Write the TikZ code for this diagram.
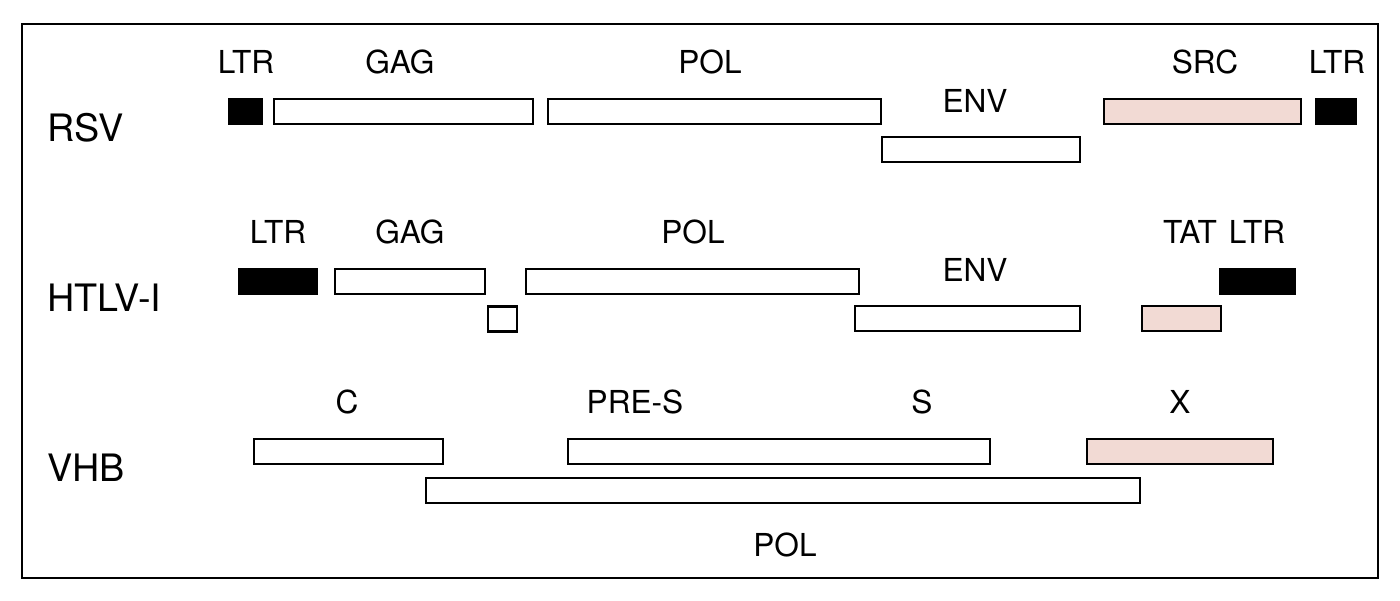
\documentclass[tikz,border=0pt]{standalone}
\usepackage{fontspec}
\setmainfont{TeX Gyre Heros}
\usepackage{tikz}
\usetikzlibrary{positioning}
\definecolor{pinkorf}{RGB}{242,218,212}

\tikzset{
  orf/.style={draw=black,line width=1.5pt,fill=white,inner sep=0pt,minimum height=0.5cm},
  ltrbox/.style={orf,fill=black},
  extra/.style={orf,fill=pinkorf},
  gene/.style={font=\fontsize{18}{21}\selectfont},
  virus/.style={font=\fontsize{21.5}{25}\selectfont,anchor=west}
}

\begin{document}
\begin{tikzpicture}[x=0.02cm,y=-0.02cm]
  \useasboundingbox (0,0) rectangle (1400,600);
  \draw[line width=1.4pt] (22,24) rectangle (1378,578);
  % RSV
  \node[virus] (rsv) at (41,128) {RSV};
  \foreach \nm/\xa/\xb/\yc/\st in {rltra/228/263/111.5/ltrbox, rgag/273/534/111.5/orf,
      rpol/547/882/111.5/orf, renv/881/1081/149.5/orf, rsrc/1103/1302/111.5/extra,
      rltrb/1315/1357/111.5/ltrbox}
    \node[\st,minimum width={(\xb-\xa-2)*0.02cm}] (\nm) at ({(\xa+\xb)/2},\yc) {};
  \node[gene] (rsvltra) at (246,62) {LTR};
  \node[gene] (rsvgag) at (400,62) {GAG};
  \node[gene] (rsvpol) at (710,62) {POL};
  \node[gene] (rsvenv) at (975,101) {ENV};
  \node[gene] (rsvsrc) at (1205,62) {SRC};
  \node[gene] (rsvltrb) at (1337,62) {LTR};
  % HTLV-I
  \node[virus] (htlv) at (41,298) {HTLV-I};
  \foreach \nm/\xa/\xb/\yc/\st in {hltra/238/318/281.5/ltrbox, hgag/334/486/281.5/orf,
      hsmall/487/518/319/orf, hpol/525/860/281.5/orf, henv/854/1081/318.5/orf,
      htat/1141/1222/318.5/extra, hltrb/1219/1296/281.5/ltrbox}
    \node[\st,minimum width={(\xb-\xa-2)*0.02cm}] (\nm) at ({(\xa+\xb)/2},\yc) {};
  \node[gene] (htlvltra) at (278,232) {LTR};
  \node[gene] (htlvgag) at (410,232) {GAG};
  \node[gene] (htlvpol) at (693,232) {POL};
  \node[gene] (htlvenv) at (975,270) {ENV};
  \node[gene] (htlvtat) at (1190,232) {TAT};
  \node[gene] (htlvltrb) at (1257,232) {LTR};
  % VHB
  \node[virus] (vhb) at (41,468) {VHB};
  \foreach \nm/\xa/\xb/\yc/\st in {vc/253/444/451.5/orf, vpres/567/991/451.5/orf,
      vx/1086/1274/451.5/extra, vpol/425/1141/490.5/orf}
    \node[\st,minimum width={(\xb-\xa-2)*0.02cm}] (\nm) at ({(\xa+\xb)/2},\yc) {};
  \node[gene] (vhbc) at (347,402) {C};
  \node[gene] (vhbpres) at (635,402) {PRE-S};
  \node[gene] (vhbs) at (922,402) {S};
  \node[gene] (vhbx) at (1180,402) {X};
  \node[gene] (vhbpol) at (785,545) {POL};
\end{tikzpicture}
\end{document}
